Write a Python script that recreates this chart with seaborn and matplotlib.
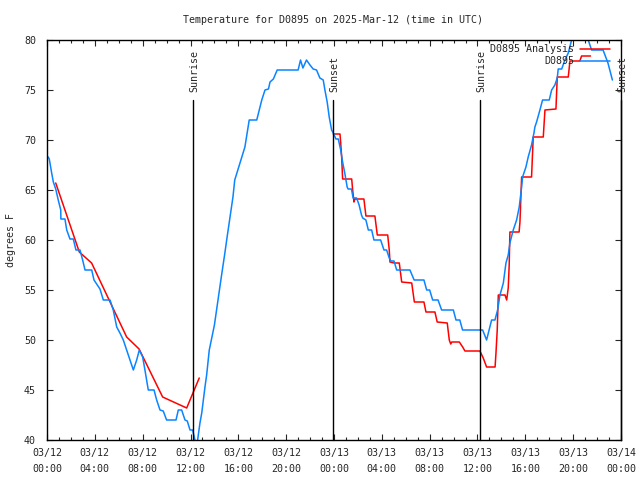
import numpy as np
import pandas as pd
import matplotlib
matplotlib.use("Agg")
import matplotlib.pyplot as plt
from matplotlib.lines import Line2D
import seaborn as sns

# ---- data (hours since 2025-03-12 00:00 UTC, temperature in F) ----
obs_hours = [0.10, 0.19, 0.39, 0.53, 0.73, 0.94, 1.15, 1.16, 1.50, 1.65, 1.92, 2.20, 2.42, 2.76, 2.98,
             3.18, 3.74, 3.93, 4.43, 4.71, 5.27, 5.54, 5.83, 6.10, 6.38, 6.66, 6.94, 7.22, 7.50,
             7.72, 8.00, 8.19, 8.47, 8.95, 9.17, 9.45, 9.72, 10.00, 10.79, 10.98, 11.26, 11.54,
             11.73, 11.96, 12.18, 12.37, 12.55, 12.79, 12.94, 13.21, 13.35, 13.57, 14.00, 14.30,
             14.60, 14.85, 15.05, 15.55, 15.70, 16.14, 16.55, 16.91, 17.54, 17.96, 18.23, 18.52,
             18.65, 18.93, 19.25, 21.00, 21.20, 21.40, 21.70, 21.99, 22.26, 22.54, 22.82, 23.10,
             23.24, 23.43, 23.60, 23.80, 23.94, 24.16, 24.36, 24.56, 24.72, 24.90, 25.10, 25.18,
             25.46, 25.60, 25.89, 26.10, 26.30, 26.40, 26.67, 26.87, 27.15, 27.34, 27.90, 28.18,
             28.40, 28.62, 28.76, 29.02, 29.24, 30.35, 30.70, 31.52, 31.75, 32.00, 32.25, 32.70,
             33.00, 33.98, 34.20, 34.52, 34.75, 36.43, 36.76, 37.18, 37.46, 37.68, 37.88, 38.16,
             38.38, 38.57, 38.71, 38.99, 39.27, 39.49, 39.69, 39.77, 40.05, 40.24, 40.52, 40.72,
             40.80, 40.94, 41.22, 41.44, 42.00, 42.20, 42.47, 42.67, 42.75, 43.04, 43.31, 43.59,
             43.87, 44.50, 45.26, 45.54, 46.50, 46.91, 47.28]
obs_temps = [68.3, 68.1, 66.7, 65.8, 65.1, 64.0, 63.0, 62.1, 62.1, 61.0, 60.1, 60.1, 59.0, 59.0, 58.0,
             57.0, 57.0, 56.0, 55.1, 54.0, 54.0, 53.0, 51.3, 50.7, 50.0, 49.0, 48.0, 47.0, 48.0,
             49.0, 48.3, 47.0, 45.0, 45.0, 44.0, 43.0, 42.9, 42.0, 42.0, 43.0, 43.0, 42.0,
             41.9, 41.0, 41.0, 40.0, 39.6, 41.7, 42.7, 45.3, 46.5, 49.0, 51.5, 54.0,
             56.5, 58.5, 60.2, 64.3, 66.0, 67.7, 69.3, 72.0, 72.0, 74.0, 75.0, 75.1,
             75.8, 76.1, 77.0, 77.0, 78.0, 77.2, 78.0, 77.5, 77.1, 77.0, 76.2, 76.0,
             75.0, 73.8, 72.3, 71.0, 70.7, 70.1, 70.1, 69.0, 67.8, 66.7, 65.3, 65.1,
             65.1, 64.2, 64.2, 63.5, 62.5, 62.2, 62.0, 61.0, 61.0, 60.0, 60.0, 59.0,
             59.0, 58.2, 57.9, 57.9, 57.0, 57.0, 56.0, 56.0, 55.0, 55.0, 54.0, 54.0,
             53.0, 53.0, 52.0, 52.0, 51.0, 51.0, 50.0, 52.0, 52.0, 53.0, 54.5, 55.7,
             57.7, 58.5, 59.7, 61.0, 62.0, 63.3, 65.3, 66.3, 67.3, 68.3, 69.5, 70.7,
             71.3, 71.8, 73.0, 74.0, 74.0, 75.0, 75.5, 76.2, 77.1, 77.1, 78.0, 78.7,
             80.0, 81.0, 80.0, 79.0, 79.0, 77.7, 76.0]

ana1_hours = [0.73, 2.70, 3.73, 6.66, 7.70, 9.67, 11.68, 12.73]
ana1_temps = [65.7, 58.8, 57.7, 50.3, 49.1, 44.3, 43.2, 46.2]

ana2_hours = [23.94, 24.50, 24.56, 24.64, 24.72, 25.48, 25.56, 25.67, 25.75, 26.50, 26.67, 27.42,
              27.62, 28.49, 28.62, 28.68, 29.03, 29.46, 29.66, 30.50, 30.58, 30.72, 31.52, 31.69,
              32.44, 32.63, 33.47, 33.64, 33.76, 33.85, 34.48, 34.76, 34.95, 36.20, 36.48, 36.76,
              37.47, 37.54, 37.65, 37.74, 38.30, 38.44, 38.57, 38.65, 38.71, 39.48, 39.55, 39.69,
              40.52, 40.66, 41.50, 41.64, 42.56, 42.67, 43.59, 43.73, 44.56, 44.70, 45.45]
ana2_temps = [70.6, 70.6, 69.7, 68.3, 66.1, 66.1, 65.0, 63.8, 64.1, 64.1, 62.4, 62.4,
              60.5, 60.5, 59.0, 57.8, 57.7, 57.7, 55.8, 55.7, 55.0, 53.8, 53.8, 52.8,
              52.8, 51.8, 51.7, 50.0, 49.6, 49.8, 49.8, 49.3, 48.9, 48.9, 48.2, 47.3,
              47.3, 48.6, 51.0, 54.5, 54.5, 54.0, 55.2, 57.5, 60.8, 60.8, 61.8, 66.3,
              66.3, 70.3, 70.3, 73.0, 73.1, 76.3, 76.3, 77.9, 77.9, 78.4, 78.4]

sun_hours = [12.2, 23.91, 36.2, 48.0]
sun_labels = ["Sunrise", "Sunset", "Sunrise", "Sunset"]

tick_hours = [0, 4, 8, 12, 16, 20, 24, 28, 32, 36, 40, 44, 48]
tick_labels = ["03/12\n00:00", "03/12\n04:00", "03/12\n08:00", "03/12\n12:00", "03/12\n16:00",
               "03/12\n20:00", "03/13\n00:00", "03/13\n04:00", "03/13\n08:00", "03/13\n12:00",
               "03/13\n16:00", "03/13\n20:00", "03/14\n00:00"]
y_ticks = [40, 45, 50, 55, 60, 65, 70, 75, 80]

title = "Temperature for D0895 on 2025-Mar-12 (time in UTC)"

# ---- style ----
sns.set_style("white")
plt.rcParams["font.family"] = ["DejaVu Sans Mono"]
FS = 7.2

RED = "#ff0000"
BLUE = "#0a84ff"

fig = plt.figure(figsize=(6.4, 4.8), dpi=100)
ax = fig.add_axes([47 / 640, 40 / 480, 574 / 640, 400 / 480])

obs_df = pd.DataFrame({"h": obs_hours, "T": obs_temps})
ana_df = pd.DataFrame({
    "h": ana1_hours + ana2_hours,
    "T": ana1_temps + ana2_temps,
    "seg": [1] * len(ana1_hours) + [2] * len(ana2_hours),
})

sns.lineplot(data=ana_df, x="h", y="T", units="seg", estimator=None, sort=False,
             color=RED, linewidth=1.1, ax=ax, legend=False)
sns.lineplot(data=obs_df, x="h", y="T", estimator=None, sort=False,
             color=BLUE, linewidth=1.1, ax=ax, legend=False)

for h, lab in zip(sun_hours, sun_labels):
    ax.plot([h, h], [40, 74.0], color="black", linewidth=1.0, clip_on=False)
    ax.text(h + 0.12, 74.8, lab, rotation=90, ha="center", va="bottom",
            fontsize=FS, clip_on=False)

ax.set_xlim(0, 48)
ax.set_ylim(40, 80)
ax.set_xticks(tick_hours)
ax.set_xticklabels(tick_labels, fontsize=FS, linespacing=1.7)
ax.set_xticks(range(0, 49), minor=True)
ax.set_yticks(y_ticks)
ax.set_yticklabels([str(v) for v in y_ticks], fontsize=FS)
ax.tick_params(which="major", direction="in", length=4.5, width=0.8,
               top=True, right=True, bottom=True, left=True, pad=6)
ax.tick_params(which="minor", direction="in", length=2.5, width=0.8,
               top=True, bottom=True)
ax.tick_params(axis="y", pad=8)
for s in ax.spines.values():
    s.set_visible(True)
    s.set_color("black")
    s.set_linewidth(1.0)

ax.set_xlabel("")
ax.set_ylabel("degrees F", fontsize=FS)
ax.yaxis.set_label_coords(-31 / 574, 0.5)
fig.text(333 / 640, 1 - 20 / 480, title, ha="center", va="center", fontsize=FS)

handles = [Line2D([], [], color=RED, linewidth=1.1),
           Line2D([], [], color=BLUE, linewidth=1.1)]
ax.legend(handles, ["D0895 Analysis", "D0895"], loc="upper right",
          bbox_to_anchor=(1.0 - 5 / 574, 1.0 + 2 / 400), frameon=False,
          markerfirst=False, fontsize=FS, handlelength=3.0, handletextpad=0.6,
          labelspacing=0.2, borderaxespad=0.2)

fig.savefig("out.png", dpi=100, facecolor="white")
